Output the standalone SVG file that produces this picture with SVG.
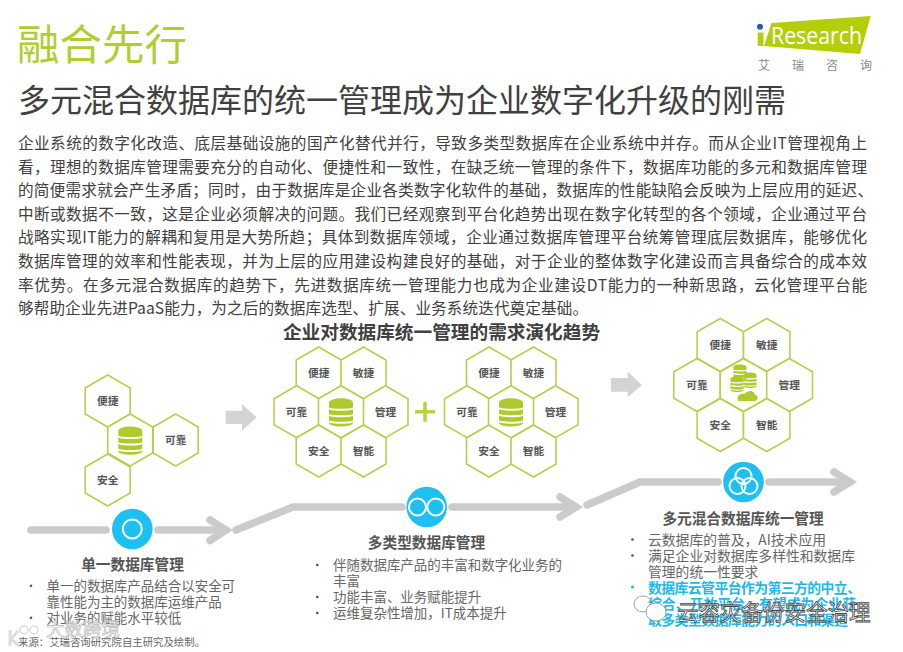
<svg xmlns="http://www.w3.org/2000/svg" xmlns:xlink="http://www.w3.org/1999/xlink" width="903" height="652" viewBox="0 0 903 652">
<style>
text{font-family:"Noto Sans CJK SC","Liberation Sans",sans-serif}
.hex{fill:#fff;stroke:#b7cf4f;stroke-width:1.6}
.hl{font-size:10.7px;font-weight:700;fill:#555;text-anchor:middle}
.body{font-size:15.6px;fill:#404040}
.h{font-size:14.67px;font-weight:700;fill:#555;text-anchor:middle}
.b{font-size:13.47px;fill:#666}
.br{font-size:13.8px;fill:#666}
.bb{font-size:13.87px;fill:#1fb8ea;font-weight:700}
.line{fill:none;stroke:#cbcbcb;stroke-width:7.5;stroke-linecap:round;stroke-linejoin:miter;stroke-miterlimit:8}
.blk{fill:#d4d4d4}
.ic{fill:#1dc0f0}
.ring{fill:none;stroke:#fff;stroke-width:2}
.db{fill:#afcb2b}
.wm{fill:#fff;stroke:#444;stroke-width:.8}
</style>
<defs>
<polygon id="hx" points="0,-26 22.5,-13 22.5,13 0,26 -22.5,13 -22.5,-13"/>
<polygon id="hx2" points="0,-26.500 23.200,-13.300 23.200,13.300 0,26.500 -23.200,13.300 -23.200,-13.300"/>
<g id="dbi">
<path class="db" d="M-12,-9C-12,-15 12,-15 12,-9V-4.500C12,-2.500 -12,-2.500 -12,-4.500Z"/>
<path class="db" d="M-12,-2.500C-8,-0.500 8,-0.500 12,-2.500V2C12,4 -12,4 -12,2Z"/>
<path class="db" d="M-12,4C-8,6 8,6 12,4V8.500C12,10.500 -12,10.500 -12,8.500Z"/>
<path class="db" d="M-12,10.500C-8,12.500 8,12.500 12,10.500V11C12,16 -12,16 -12,11Z"/>
</g>
</defs>

<g id="header">
<text x="17" y="60" font-size="42.500" fill="#aecf2f">融合先行</text>
<text x="18" y="112" font-size="32" fill="#404040">多元混合数据库的统一管理成为企业数字化升级的刚需</text>
</g>
<g id="logo">
<polygon points="771.500,23 870.700,16 860,54 764,46" fill="#b4cf0a"/>
<polygon points="757.700,32.500 763.500,32.500 763.500,46 757.700,46" fill="#b4cf0a"/>
<circle cx="760" cy="26.800" r="3" fill="#2a5ea8"/>
<text x="771" y="44" font-size="24" fill="#fff" textLength="91" lengthAdjust="spacingAndGlyphs" style="font-family:'Open Sans','Liberation Sans',sans-serif">Research</text>
<text x="764" y="70" font-size="12" fill="#888" text-anchor="middle">艾</text>
<text x="798" y="70" font-size="12" fill="#888" text-anchor="middle">瑞</text>
<text x="832" y="70" font-size="12" fill="#888" text-anchor="middle">咨</text>
<text x="866" y="70" font-size="12" fill="#888" text-anchor="middle">询</text>
</g>
<g id="intro">
<text class="body" x="18" y="149" textLength="849">企业系统的数字化改造、底层基础设施的国产化替代并行，导致多类型数据库在企业系统中并存。而从企业IT管理视角上</text>
<text class="body" x="18" y="172.600" textLength="849">看，理想的数据库管理需要充分的自动化、便捷性和一致性，在缺乏统一管理的条件下，数据库功能的多元和数据库管理</text>
<text class="body" x="18" y="196.200" textLength="855">的简便需求就会产生矛盾；同时，由于数据库是企业各类数字化软件的基础，数据库的性能缺陷会反映为上层应用的延迟、</text>
<text class="body" x="18" y="219.800" textLength="849">中断或数据不一致，这是企业必须解决的问题。我们已经观察到平台化趋势出现在数字化转型的各个领域，企业通过平台</text>
<text class="body" x="18" y="243.400" textLength="849">战略实现IT能力的解耦和复用是大势所趋；具体到数据库领域，企业通过数据库管理平台统筹管理底层数据库，能够优化</text>
<text class="body" x="18" y="267" textLength="849">数据库管理的效率和性能表现，并为上层的应用建设构建良好的基础，对于企业的整体数字化建设而言具备综合的成本效</text>
<text class="body" x="18" y="290.600" textLength="849">率优势。在多元混合数据库的趋势下，先进数据库统一管理能力也成为企业建设DT能力的一种新思路，云化管理平台能</text>
<text class="body" x="18" y="314.200" textLength="570">够帮助企业先进PaaS能力，为之后的数据库选型、扩展、业务系统迭代奠定基础。</text>
</g>
<text x="441.500" y="338.500" font-size="18.670" font-weight="700" fill="#404040" text-anchor="middle">企业对数据库统一管理的需求演化趋势</text>

<g id="connectors">
<path class="line" d="M31,530H106"/>
<path class="line" d="M158,530H226"/>
<path class="line" d="M210,520L226,530L210,540.500"/>
<path class="line" d="M236,530L293,507H402"/>
<path class="line" d="M452,507H576"/>
<path class="line" d="M560,497L576,507L560,517"/>
<path class="line" d="M587,505L640,482H718"/>
<path class="line" d="M769,482H850"/>
<path class="line" d="M834,472L850,482L834,492"/>
<polygon class="blk" points="225.700,410.700 242,410.700 242,404 256.700,417.300 242,430.700 242,424 225.700,424"/>
<polygon class="blk" points="611,378 627.700,378 627.700,371.700 642,385 627.700,397.300 627.700,391.700 611,391.700"/>
<path d="M415,411.700H435M425,401.700V421.700" fill="none" stroke="#b7d23c" stroke-width="3.500"/>
</g>

<g id="stage1">
<use href="#hx" class="hex" x="107.700" y="401"/><text class="hl" x="107.700" y="405">便捷</text>
<use href="#hx" class="hex" x="175.700" y="440"/><text class="hl" x="175.700" y="444">可靠</text>
<use href="#hx" class="hex" x="107.700" y="480"/><text class="hl" x="107.700" y="484">安全</text>
<use href="#hx" class="hex" x="130.200" y="440"/><use href="#dbi" x="130.300" y="440"/>
</g>
<g id="stage2a">
<use href="#hx" class="hex" x="318.700" y="373"/><text class="hl" x="318.700" y="377">便捷</text>
<use href="#hx" class="hex" x="363.500" y="373"/><text class="hl" x="363.500" y="377">敏捷</text>
<use href="#hx" class="hex" x="296.500" y="411.700"/><text class="hl" x="296.500" y="416">可靠</text>
<use href="#hx" class="hex" x="385.500" y="411.700"/><text class="hl" x="385.500" y="416">管理</text>
<use href="#hx" class="hex" x="318.700" y="451"/><text class="hl" x="318.700" y="455">安全</text>
<use href="#hx" class="hex" x="363.500" y="451"/><text class="hl" x="363.500" y="455">智能</text>
<use href="#hx" class="hex" x="341" y="411.700"/><use href="#dbi" x="341" y="411.700"/>
</g>
<g id="stage2b">
<use href="#hx" class="hex" x="489" y="373"/><text class="hl" x="489" y="377">便捷</text>
<use href="#hx" class="hex" x="533.500" y="373"/><text class="hl" x="533.500" y="377">敏捷</text>
<use href="#hx" class="hex" x="467" y="411.700"/><text class="hl" x="467" y="416">可靠</text>
<use href="#hx" class="hex" x="555.500" y="411.700"/><text class="hl" x="555.500" y="416">管理</text>
<use href="#hx" class="hex" x="489" y="451"/><text class="hl" x="489" y="455">安全</text>
<use href="#hx" class="hex" x="533.500" y="451"/><text class="hl" x="533.500" y="455">智能</text>
<use href="#hx" class="hex" x="511" y="411.700"/><use href="#dbi" x="511" y="411.700"/>
</g>
<g id="stage3">
<use href="#hx2" class="hex" x="720.300" y="345"/><text class="hl" x="720.300" y="349">便捷</text>
<use href="#hx2" class="hex" x="766.700" y="345"/><text class="hl" x="766.700" y="349">敏捷</text>
<use href="#hx2" class="hex" x="697" y="385"/><text class="hl" x="697" y="389">可靠</text>
<use href="#hx2" class="hex" x="789.300" y="385"/><text class="hl" x="789.300" y="389">管理</text>
<use href="#hx2" class="hex" x="720.300" y="425"/><text class="hl" x="720.300" y="429">安全</text>
<use href="#hx2" class="hex" x="766.700" y="425"/><text class="hl" x="766.700" y="429">智能</text>
<use href="#hx2" class="hex" x="743.500" y="385"/>
<g transform="translate(740,372) scale(.55)"><use href="#dbi"/></g>
<g transform="translate(750,380) scale(.55)"><use href="#dbi"/></g>
<g transform="translate(737,384) scale(.55)"><use href="#dbi"/></g>
<path class="db" d="M738,401C736,394 743,393 745,394C748,389 755,391 755,395C759,395 758,401 755,401Z"/>
</g>

<g id="badge1"><circle class="ic" cx="132.300" cy="529" r="20.300"/><circle class="ring" cx="132.300" cy="529" r="9.500"/></g>
<g id="badge2"><circle class="ic" cx="426.700" cy="507" r="20.300"/><circle class="ring" cx="417.500" cy="507" r="8.500"/><circle class="ring" cx="435.800" cy="507" r="8.500"/></g>
<g id="badge3"><circle class="ic" cx="743.500" cy="482" r="20.300"/><circle class="ring" cx="743.500" cy="476" r="8"/><circle class="ring" cx="737.500" cy="486" r="8"/><circle class="ring" cx="749.500" cy="486" r="8"/></g>

<g id="text1">
<text class="h" x="132.500" y="569.500">单一数据库管理</text>
<circle cx="31" cy="585.700" r="1.300" fill="#555"/>
<text class="b" x="46.500" y="590.700">单一的数据库产品结合以安全可</text>
<text class="b" x="46.500" y="606.700">靠性能为主的数据库运维产品</text>
<circle cx="31" cy="617.700" r="1.300" fill="#555"/>
<text class="b" x="46.500" y="622.700">对业务的赋能水平较低</text>
</g>
<g id="text2">
<text class="h" x="426.500" y="548">多类型数据库管理</text>
<circle cx="317.300" cy="565" r="1.300" fill="#555"/>
<text class="b" x="333" y="570">伴随数据库产品的丰富和数字化业务的</text>
<text class="b" x="333" y="586">丰富</text>
<circle cx="317.300" cy="597" r="1.300" fill="#555"/>
<text class="b" x="333" y="602">功能丰富、业务赋能提升</text>
<circle cx="317.300" cy="613" r="1.300" fill="#555"/>
<text class="b" x="333" y="618">运维复杂性增加，IT成本提升</text>
</g>
<g id="text3">
<text class="h" x="743" y="523.500">多元混合数据库统一管理</text>
<circle cx="632.500" cy="539.500" r="1.300" fill="#555"/>
<text class="br" x="648" y="545">云数据库的普及，AI技术应用</text>
<circle cx="632.500" cy="555.500" r="1.300" fill="#555"/>
<text class="br" x="648" y="561">满足企业对数据库多样性和数据库</text>
<text class="br" x="648" y="577">管理的统一性要求</text>
<circle cx="632.500" cy="587" r="1.500" fill="#1fb8ea"/>
<text class="bb" x="648" y="592.500" textLength="213">数据库云管平台作为第三方的中立、</text>
<text class="bb" x="648" y="609" textLength="208">综合、开放平台，有望成为企业获</text>
<text class="bb" x="648" y="625" textLength="200">取多类型数据库能力的入口和渠道</text>
</g>
<text x="18" y="645.500" font-size="10.400" fill="#666">来源：艾瑞咨询研究院自主研究及绘制。</text>

<g id="watermarks">
<text x="46" y="636" font-size="18.500" style="fill:#fff;stroke:#bbb;stroke-width:.7">大数跨境</text>
<path d="M10,630V646M11,639L18,631M11,639L19,646" fill="none" stroke="#ddd" stroke-width="3"/>
<circle cx="24" cy="630" r="4" fill="none" stroke="#ddd" stroke-width="1.500"/><circle cx="34" cy="630" r="4" fill="none" stroke="#ddd" stroke-width="1.500"/>
<ellipse cx="643" cy="604" rx="9" ry="8" fill="none" stroke="#999" stroke-width=".9"/>
<ellipse cx="656" cy="612" rx="10" ry="9" fill="#fff" stroke="#999" stroke-width=".9"/>
<text class="wm" x="677" y="620" font-size="21.500">云容灾备份安全治理</text>
</g>
</svg>
